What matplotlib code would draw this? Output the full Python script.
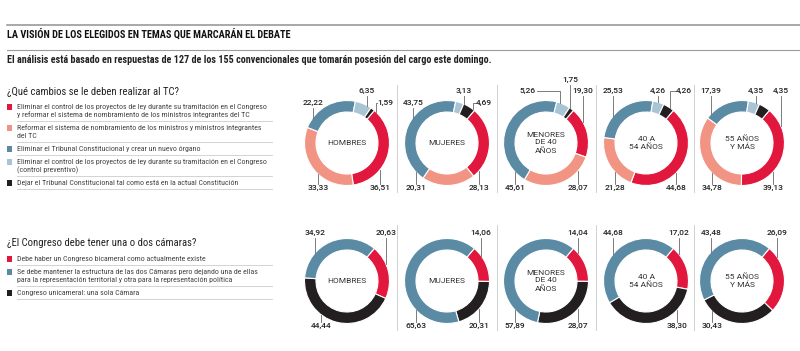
import matplotlib
matplotlib.use("Agg")
import matplotlib.pyplot as plt
from matplotlib import font_manager
import numpy as np

W, H = 800, 351

# --- data ---------------------------------------------------------------
groups = ["HOMBRES", "MUJERES", "MENORES\nDE 40\nAÑOS", "40 A\n54 AÑOS", "55 AÑOS\nY MÁS"]

tc_title = "¿Qué cambios se le deben realizar al TC?"
tc_items = [
    ["Eliminar el control de los proyectos de ley durante su tramitación en el Congreso",
     "y reformar el sistema de nombramiento de los ministros integrantes del TC"],
    ["Reformar el sistema de nombramiento de los ministros y ministros integrantes",
     "del TC"],
    ["Eliminar el Tribunal Constitucional y crear un nuevo órgano"],
    ["Eliminar el control de los proyectos de ley durante su tramitación en el Congreso",
     "(control preventivo)"],
    ["Dejar el Tribunal Constitucional tal como está en la actual Constitución"],
]
tc_red = [36.51, 28.13, 19.30, 44.68, 39.13]
tc_salmon = [33.33, 20.31, 28.07, 21.28, 34.78]
tc_blue = [22.22, 43.75, 45.61, 25.53, 17.39]
tc_lightblue = [6.35, 3.13, 5.26, 4.26, 4.35]
tc_black = [1.59, 4.69, 1.75, 4.26, 4.35]

cam_title = "¿El Congreso debe tener una o dos cámaras?"
cam_items = [
    ["Debe haber un Congreso bicameral como actualmente existe"],
    ["Se debe mantener la estructura de las dos Cámaras pero dejando una de ellas",
     "para la representación territorial y otra para la representación política"],
    ["Congreso unicameral: una sola Cámara"],
]
cam_red = [20.63, 14.06, 14.04, 17.02, 26.09]
cam_blue = [34.92, 65.63, 57.89, 44.68, 43.48]
cam_black = [44.44, 20.31, 28.07, 38.30, 30.43]

# --- styles ---------------------------------------------------------------
RED = "#e2173d"
SALMON = "#f19483"
BLUE = "#5b8ba4"
LBLUE = "#a9c4d4"
BLACK = "#231f20"

names = {f.name for f in font_manager.fontManager.ttflist}
NARROW = "DejaVu Sans"
for cand in ["Roboto Condensed", "Liberation Sans Narrow", "Open Sans Condensed", "Roboto"]:
    if cand in names:
        NARROW = cand
        break
NUMF = "Roboto" if "Roboto" in names else "DejaVu Sans"

centers_x = [347, 447, 546, 646, 742]
R = 42.5
RING = 11.5

# label placement per donut: (dx, y, hook_dx) in series order
tc_pos = [
    [(33, 188, None), (-29, 188, None), (-34, 103, None), (20, 91, None), (38, 103, 29)],
    [(32, 188, None), (-31, 188, None), (-34, 103, None), (17, 91, None), (37, 103, 26)],
    [(37, 91, None), (32, 188, None), (-31, 188, None), (-18, 91, 14), (24, 80, None)],
    [(30, 188, None), (-31, 188, None), (-33, 91, None), (12, 91, None), (38, 91, 24)],
    [(31, 188, None), (-30, 188, None), (-31, 91, None), (14, 91, None), (39, 91, None)],
]
cam_pos = [
    [(39, 233, None), (-32, 233, None), (-26, 326, None)],
    [(34, 233, None), (-31, 326, None), (32, 326, None)],
    [(32, 233, None), (-31, 326, None), (32, 326, None)],
    [(33, 233, None), (-33, 233, None), (31, 326, None)],
    [(35, 233, None), (-31, 233, None), (-30, 326, None)],
]


def Y(y):
    return H - y


def fmt(v):
    return f"{v:.2f}".replace(".", ",")


def circle_y(cy, dx, top):
    h = np.sqrt(max(R ** 2 - dx ** 2, 0))
    return cy - h if top else cy + h


def donut(ax, cx, cy, vals, cols, center_text, pos):
    ax.pie(vals, radius=R, center=(cx, Y(cy)), startangle=50, counterclock=False,
           colors=cols, wedgeprops=dict(width=RING, edgecolor="white", linewidth=0.8))
    ax.text(cx, Y(cy), center_text, ha="center", va="center", fontsize=6,
            family=NUMF, color="#333333", linespacing=1.25)
    for v, (dx, y, hook) in zip(vals, pos):
        lx = cx + dx
        ax.text(lx, Y(y), fmt(v), ha="center", va="center", fontsize=6,
                family=NUMF, color="#222222", fontweight="medium")
        top = y < cy
        if hook is None:
            y0 = y + 4.5 if top else y - 4.5
            ax.plot([lx, lx], [Y(y0), Y(circle_y(cy, dx, top))], color="#666666", lw=0.6)
        else:
            hx = cx + hook
            edge = lx - 8.5 if hook < dx else lx + 8.5
            ax.plot([edge, hx, hx], [Y(y), Y(y), Y(circle_y(cy, hook, top))],
                    color="#666666", lw=0.6)


def legend(ax, title, title_y, items, cols, y_start):
    ax.text(7, Y(title_y), title, ha="left", va="center", fontsize=7.7,
            family=NARROW, color="#222222")
    y = y_start
    for lines, c in zip(items, cols):
        ax.add_patch(plt.Rectangle((7, Y(y) - 2.6), 5.2, 5.2, color=c, lw=0))
        for k, s in enumerate(lines):
            ax.text(17, Y(y + 8 * k), s, ha="left", va="center", fontsize=5.7,
                    family=NARROW, color="#444444")
        sep = y + 8 * (len(lines) - 1) + 6
        ax.plot([17, 272], [Y(sep), Y(sep)], color="#cccccc", lw=0.6)
        y = sep + 7


fig = plt.figure(figsize=(W / 100, H / 100), dpi=100)
ax = fig.add_axes([0, 0, 1, 1])

# header
ax.plot([7, W], [Y(25), Y(25)], color="#9a9a9a", lw=1.2)
ax.plot([7, W], [Y(50), Y(50)], color="#9a9a9a", lw=0.8)
ax.text(7, Y(33.5), "LA VISIÓN DE LOS ELEGIDOS EN TEMAS QUE MARCARÁN EL DEBATE",
        ha="left", va="center", fontsize=7.4, family=NARROW, fontweight="bold", color="#111111")
ax.text(7, Y(60), "El análisis está basado en respuestas de 127 de los 155 convencionales que "
        "tomarán posesión del cargo este domingo.",
        ha="left", va="center", fontsize=7.25, family=NARROW, fontweight="bold", color="#222222")

tc_cols = [RED, SALMON, BLUE, LBLUE, BLACK]
legend(ax, tc_title, 92, tc_items, tc_cols, 107)
cam_cols_legend = [RED, BLUE, BLACK]
legend(ax, cam_title, 243, cam_items, cam_cols_legend, 259)

# column separators
for i in range(len(centers_x) - 1):
    sx = (centers_x[i] + centers_x[i + 1]) / 2
    ax.plot([sx, sx], [Y(85), Y(192)], color="#d0d0d0", lw=0.7)
    ax.plot([sx, sx], [Y(225), Y(330)], color="#d0d0d0", lw=0.7)

for i, g in enumerate(groups):
    vals = [tc_red[i], tc_salmon[i], tc_blue[i], tc_lightblue[i], tc_black[i]]
    donut(ax, centers_x[i], 143, vals, tc_cols, g, tc_pos[i])
    # clockwise order: red, black, blue
    vals2 = [cam_red[i], cam_black[i], cam_blue[i]]
    p = cam_pos[i]
    donut(ax, centers_x[i], 281, vals2, [RED, BLACK, BLUE], g, [p[0], p[2], p[1]])

ax.set_xlim(0, W)
ax.set_ylim(0, H)
ax.set_aspect("equal")
ax.axis("off")

fig.savefig("out.png", dpi=100, facecolor="white")
